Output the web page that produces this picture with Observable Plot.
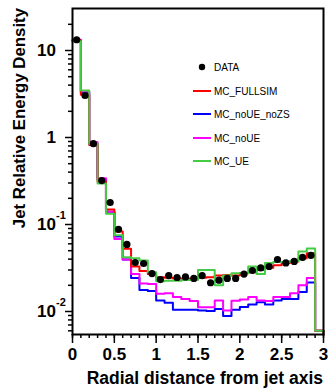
<!DOCTYPE html>
<html><head><meta charset="utf-8">
<script src="https://cdn.jsdelivr.net/npm/d3@7"></script>
<script src="https://cdn.jsdelivr.net/npm/@observablehq/plot@0.6"></script>
<style>
body{margin:0;background:#fff;}
#wrap{position:relative;width:329px;height:390px;}
</style></head><body><div id="wrap"></div>
<script>
// bin edges (radial distance)
const binEdges = [0,0.1,0.2,0.3,0.4,0.5,0.6,0.7,0.8,0.9,1.0,1.1,1.2,1.3,1.4,1.5,1.6,1.7,1.8,1.9,2.0,2.1,2.2,2.3,2.4,2.5,2.6,2.7,2.8,2.9,3.0];

// DATA points (bins 0..28)
const dataVals = [13.3,3.04,0.85,0.32,0.179,0.088,0.059,0.0366,0.0356,0.0273,0.0233,0.0259,0.0246,0.0250,0.0240,0.0259,0.0214,0.0229,0.0240,0.0240,0.0269,0.0296,0.0318,0.0329,0.0396,0.0362,0.0376,0.0418,0.0441];

const fullsimVals = [13.0,3.1,0.82,0.31,0.149,0.083,0.0526,0.0329,0.0292,0.0269,0.0248,0.0245,0.0240,0.0240,0.0240,0.0245,0.0248,0.0260,0.0263,0.0260,0.0275,0.0282,0.0300,0.0318,0.0340,0.0360,0.0375,0.0410,0.0467,0.006];
const noUEnoZSVals = [13.0,3.3,0.85,0.33,0.14,0.073,0.0395,0.0242,0.0177,0.0172,0.0134,0.0126,0.0105,0.0105,0.0105,0.0103,0.0101,0.0107,0.0089,0.0105,0.0113,0.0120,0.0128,0.0120,0.0134,0.0139,0.0139,0.0168,0.0216,0.006];
const noUEVals = [13.3,3.38,0.88,0.34,0.14,0.068,0.0395,0.0270,0.0210,0.0207,0.0160,0.0162,0.0147,0.0139,0.0132,0.0112,0.0112,0.0134,0.0103,0.0133,0.0137,0.0147,0.0134,0.0132,0.0147,0.0147,0.0162,0.0200,0.0242,0.006];
const UEVals = [12.8,3.47,0.85,0.296,0.133,0.075,0.042,0.041,0.0385,0.0282,0.0223,0.0225,0.0225,0.0230,0.0230,0.030,0.030,0.020,0.026,0.0276,0.0276,0.033,0.027,0.036,0.037,0.037,0.038,0.049,0.053,0.006];

const seriesNames = ["MC_FULLSIM","MC_noUE_noZS","MC_noUE","MC_UE"];
const seriesColors = ["#ff0000","#0000ff","#ff00ff","#44cc44"];

const yDomain = [0.00544, 30.4];
const xMajor = [0,0.5,1,1.5,2,2.5,3];
const xMinor = binEdges;
const yMajor = [0.01,0.1,1,10];
const yMajorLabels = [["10","-2"],["10","-1"],["1",""],["10",""]];
const yMinor = [0.006,0.007,0.008,0.009,0.02,0.03,0.04,0.05,0.06,0.07,0.08,0.09,0.2,0.3,0.4,0.5,0.6,0.7,0.8,0.9,2,3,4,5,6,7,8,9,20];

function steps(vals, name){
  const pts = vals.map((v,i)=>({x: binEdges[i], y: v, s: name}));
  pts.push({x: binEdges[binEdges.length-1], y: vals[vals.length-1], s: name});
  pts.push({x: binEdges[binEdges.length-1], y: yDomain[0], s: name});
  return pts;
}
const allSeries = [fullsimVals, noUEnoZSVals, noUEVals, UEVals];
const drawOrder = [1,2,0,3];
const lineMarks = drawOrder.map(k => Plot.line(steps(allSeries[k], seriesNames[k]), {x:"x", y:"y", curve:"step-after", stroke: seriesColors[k], strokeWidth: 2}));
const dataPts = dataVals.map((v,i)=>({x:(binEdges[i]+binEdges[i+1])/2, y:v}));

const FONT = "'Liberation Sans', Arial, Helvetica, sans-serif";
const plot = Plot.plot({
  width: 329, height: 390,
  marginLeft: 72, marginRight: 6, marginTop: 8, marginBottom: 56,
  style: {fontFamily: FONT, background: "white", color: "black", overflow: "visible"},
  x: {domain: [0,3]},
  y: {type: "log", domain: yDomain},
  marks: [
    ...lineMarks,
    Plot.dot(dataPts, {x:"x", y:"y", r: 3.6, fill: "black", stroke: "none"}),
    Plot.axisX({ticks: xMinor, tickSize: 4, tickFormat: () => "", strokeWidth: 1.5, label: null}),
    Plot.axisX({ticks: xMajor, tickSize: 9, tickPadding: 4, strokeWidth: 1.5, fontSize: 17, fontWeight: "bold", tickFormat: d => String(d), label: null}),
    Plot.axisY({ticks: yMinor, tickSize: 4, tickFormat: () => "", strokeWidth: 1.5, label: null}),
    Plot.axisY({ticks: yMajor, tickSize: 7, tickFormat: () => "", strokeWidth: 1.5, label: null}),
    Plot.frame({stroke: "black", strokeWidth: 2})
  ]
});
document.getElementById("wrap").appendChild(plot);

const svg = d3.select(plot);
const ys = plot.scale("y");
// y tick labels with superscripts
yMajor.forEach((v,i) => {
  const [base, sup] = yMajorLabels[i];
  const yy = ys.apply(v);
  svg.append("text").attr("x", 56).attr("y", yy).attr("dy","0.36em")
    .attr("text-anchor","end").attr("font-family",FONT).attr("font-weight","bold").attr("font-size",17).text(base);
  if (sup) svg.append("text").attr("x", 56).attr("y", yy - 5).attr("text-anchor","start")
    .attr("font-family",FONT).attr("font-weight","bold").attr("font-size",11).text(sup);
});
// axis titles
svg.append("text").attr("x", 323).attr("y", 384).attr("text-anchor","end")
  .attr("font-family",FONT).attr("font-weight","bold").attr("font-size",17.5).text("Radial distance from jet axis");
svg.append("text").attr("transform","translate(25,8) rotate(-90)").attr("text-anchor","end")
  .attr("font-family",FONT).attr("font-weight","bold").attr("font-size",16.8).text("Jet Relative Energy Density");

// legend
const legY = [67, 91, 114, 138, 161];
const leg = svg.append("g").attr("text-anchor","start");
leg.append("circle").attr("cx",202).attr("cy",legY[0]).attr("r",3.2).attr("fill","black");
leg.append("text").attr("x",214).attr("y",legY[0]).attr("dy","0.35em").attr("text-anchor","start").attr("font-family",FONT).attr("font-size",10).text("DATA");
seriesNames.forEach((n,k) => {
  leg.append("line").attr("x1",193).attr("x2",211).attr("y1",legY[k+1]).attr("y2",legY[k+1]).attr("stroke",seriesColors[k]).attr("stroke-width",2);
  leg.append("text").attr("x",214).attr("y",legY[k+1]).attr("dy","0.35em").attr("text-anchor","start").attr("font-family",FONT).attr("font-size",10).text(n);
});
</script></body></html>
